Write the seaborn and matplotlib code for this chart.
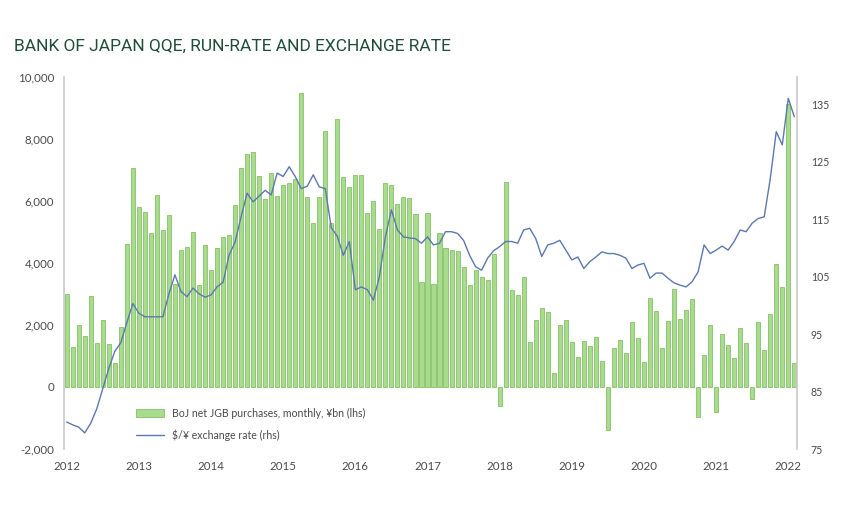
"""Bank of Japan QQE run-rate vs USD/JPY exchange rate."""

import matplotlib
matplotlib.use("Agg")
import matplotlib.pyplot as plt
import matplotlib.ticker as mticker
import numpy as np
import pandas as pd
import seaborn as sns

# monthly net JGB purchases, ¥bn (lhs)
jgb_purchases = [
    3000, 1300, 2000, 1630, 2920, 1400, 2170, 1380, 770, 1930,
    4600, 7060, 5800, 5630, 4950, 6180, 5050, 5530, 3300, 4400,
    4500, 5000, 3270, 4570, 3780, 4460, 4840, 4910, 5860, 7040,
    7500, 7580, 6780, 6050, 6890, 6150, 6500, 6570, 6700, 9460,
    6130, 5270, 6130, 8230, 5270, 8620, 6760, 6430, 6840, 6830,
    5600, 5990, 5100, 6560, 6500, 5890, 6120, 6100, 5570, 3370,
    5600, 3300, 4960, 4460, 4400, 4380, 3870, 3280, 3780, 3550,
    3440, 4280, -620, 6610, 3120, 2950, 3550, 1450, 2160, 2530,
    2420, 440, 2000, 2150, 1450, 960, 1480, 1320, 1610, 820,
    -1400, 1240, 1510, 1100, 2080, 1560, 810, 2870, 2450, 1240,
    2120, 3140, 2200, 2490, 2830, -970, 1040, 1990, -810, 1700,
    1340, 940, 1900, 1420, -380, 2080, 1200, 2340, 3960, 3230,
    9100, 780,
]

# $/¥ exchange rate (rhs)
usd_jpy = [
    79.7, 79.2, 78.8, 77.8, 79.5, 82.0, 85.5, 89.0, 92.0, 93.5,
    97.0, 100.3, 98.6, 98.0, 98.0, 98.0, 98.0, 102.0, 105.3, 102.4,
    101.5, 103.0, 102.0, 101.4, 101.8, 103.2, 104.0, 108.7, 111.0, 115.4,
    119.5, 118.0, 119.0, 120.0, 119.2, 123.0, 122.4, 124.1, 122.4, 120.3,
    120.7, 122.7, 120.6, 120.3, 113.5, 112.0, 108.7, 111.1, 102.7, 103.2,
    102.7, 100.9, 105.0, 111.9, 116.6, 113.1, 111.9, 111.7, 111.6, 110.8,
    111.9, 110.5, 110.8, 112.8, 112.8, 112.5, 111.3, 108.7, 106.7, 106.1,
    108.2, 109.5, 110.2, 111.1, 111.1, 110.8, 113.1, 113.4, 111.6, 108.5,
    110.5, 110.8, 111.3, 109.6, 107.9, 108.4, 106.4, 107.6, 108.4, 109.3,
    109.0, 109.0, 108.7, 108.2, 106.4, 107.0, 107.3, 104.7, 105.6, 105.6,
    104.7, 103.9, 103.5, 103.2, 104.1, 105.8, 110.5, 109.0, 109.6, 110.3,
    109.6, 111.1, 113.1, 112.8, 114.3, 115.1, 115.4, 122.0, 130.2, 127.9,
    136.0, 132.8,
]

year_labels = ["2012", "2013", "2014", "2015", "2016", "2017",
               "2018", "2019", "2020", "2021", "2022"]

df = pd.DataFrame({
    "month": np.arange(len(jgb_purchases)),
    "jgb": jgb_purchases,
    "fx": usd_jpy,
})

sns.set_theme(style="white")
plt.rcParams["font.family"] = ["Lato", "DejaVu Sans"]

TEXT = "#4a4a4a"
BAR_FACE = "#a8db8e"
BAR_EDGE = "#84c266"
LINE = "#5b78b0"
SPINE = "#c8c8c8"

fig = plt.figure(figsize=(8.48, 5.13), dpi=100)
ax = fig.add_axes([64 / 848, 1 - 449 / 513, 733 / 848, 372.5 / 513])

sns.barplot(data=df, x="month", y="jgb", color=BAR_FACE, saturation=1,
            width=0.68, edgecolor=BAR_EDGE, linewidth=0.6, ax=ax,
            label="BoJ net JGB purchases, monthly, ¥bn (lhs)")
ax2 = ax.twinx()
sns.lineplot(data=df, x="month", y="fx", color=LINE, linewidth=1.0, ax=ax2,
             label="$/¥ exchange rate (rhs)")

ax.set_xlim(-0.45, len(jgb_purchases) - 0.55)
ax.set_ylim(-2000, 10000)
ax2.set_ylim(75, 139.8)

ax.set_yticks(range(-2000, 10001, 2000))
ax.yaxis.set_major_formatter(mticker.FuncFormatter(lambda v, _: f"{v:,.0f}"))
ax2.set_yticks(range(75, 136, 10))
ax.set_xticks(range(0, len(jgb_purchases), 12))
ax.set_xticklabels(year_labels)

ax.set_xlabel("")
ax.set_ylabel("")
ax2.set_xlabel("")
ax2.set_ylabel("")

ax.tick_params(axis="y", length=0, pad=7, labelsize=8.3, labelcolor=TEXT)
ax.tick_params(axis="x", length=0, pad=9, labelsize=8.3, labelcolor=TEXT)
ax2.tick_params(axis="y", length=0, pad=10, labelsize=7.6, labelcolor=TEXT)

for a in (ax, ax2):
    a.grid(False)
    for side in ("top", "bottom"):
        a.spines[side].set_visible(False)
    a.spines["left"].set_color(SPINE)
    a.spines["right"].set_color(SPINE)
    a.spines["left"].set_linewidth(1.2)
    a.spines["right"].set_linewidth(1.2)
ax2.spines["left"].set_visible(False)
ax.spines["right"].set_visible(False)

# one legend holding the bars and the line
bar_handles, bar_labels = ax.get_legend_handles_labels()
line_handles, line_labels = ax2.get_legend_handles_labels()
if ax.legend_:
    ax.legend_.remove()
if ax2.legend_:
    ax2.legend_.remove()
ax2.legend(bar_handles[:1] + line_handles, bar_labels[:1] + line_labels,
           loc="lower left", bbox_to_anchor=(0.09, 0.005),
           frameon=False, fontsize=7.6, labelcolor=TEXT, handlelength=2.6,
           handleheight=0.9, labelspacing=1.0, borderaxespad=0.2)

fig.text(14 / 848, 1 - 46 / 513, "BANK OF JAPAN QQE, RUN-RATE AND EXCHANGE RATE",
         family=["Roboto", "DejaVu Sans"],
         fontsize=12.5, color="#1f4d3a", va="center", ha="left")

fig.savefig("out.png", dpi=100, facecolor="white")
